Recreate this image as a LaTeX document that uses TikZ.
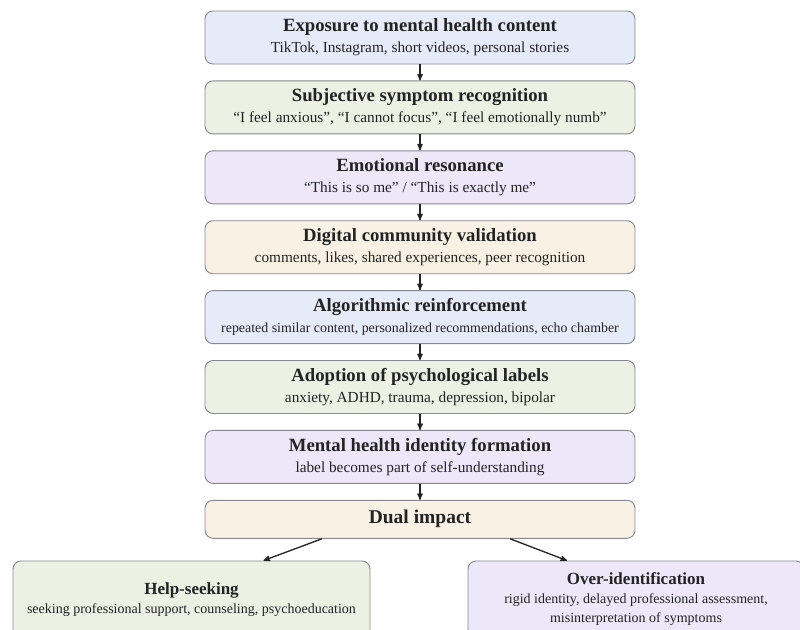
\documentclass[tikz,border=0pt]{standalone}
\usepackage{fontspec}
\setmainfont{Liberation Serif}
\usepackage[]{xcolor}
\usepackage{tikz}
\usetikzlibrary{arrows, positioning}
\definecolor{stageblue}{RGB}{230,235,249}
\definecolor{stagegreen}{RGB}{237,241,228}
\definecolor{stagepurple}{RGB}{236,232,249}
\definecolor{stagesand}{RGB}{249,242,228}
\definecolor{stageline}{RGB}{135,135,145}
\definecolor{inktext}{RGB}{35,35,35}
\newcommand{\stagetitle}[2][18.7]{{\bfseries\fontsize{#1}{20}\selectfont #2}}
\tikzset{
		stage/.style={draw=stageline, line width=0.9pt, rounded corners=8pt,
			minimum width=430pt, minimum height=53pt, inner sep=2pt,
			align=center, text=inktext, font=\fontsize{15.3}{21}\selectfont},
		outcome/.style={stage, font=\fontsize{14}{19}\selectfont},
		flow/.style={->, line width=1.3pt, draw=inktext}
	}

\begin{document}
\begin{tikzpicture}[>=stealth', x=1pt, y=1pt]
				\useasboundingbox (0,0) rectangle (800,-629);
				\clip (0,0) rectangle (800,-629);
				\fill[white] (0,0) rectangle (800,-629);

				\node[stage, fill=stageblue]                       (expo) at (420,-37.5) {\stagetitle{Exposure to mental health content}\\ TikTok, Instagram, short videos, personal stories};
				\node[stage, fill=stagegreen,  below=16pt of expo]  (symp)  {\stagetitle{Subjective symptom recognition}\\ “I feel anxious”, “I cannot focus”, “I feel emotionally numb”};
				\node[stage, fill=stagepurple, below=16pt of symp]  (reso)  {\stagetitle{Emotional resonance}\\ “This is so me” / “This is exactly me”};
				\node[stage, fill=stagesand,   below=16pt of reso]  (valid) {\stagetitle{Digital community validation}\\ comments, likes, shared experiences, peer recognition};
				\node[stage, fill=stageblue,   below=16pt of valid] (algo)  {\stagetitle{Algorithmic reinforcement}\\ {\fontsize{13.9}{21}\selectfont repeated similar content, personalized recommendations, echo chamber}};
				\node[stage, fill=stagegreen,  below=16pt of algo]  (label) {\stagetitle{Adoption of psychological labels}\\ anxiety, ADHD, trauma, depression, bipolar};
				\node[stage, fill=stagepurple, below=16pt of label] (ident) {\stagetitle{Mental health identity formation}\\ label becomes part of self-understanding};
				\node[stage, fill=stagesand, minimum height=38pt, below=16pt of ident] (dual) {\stagetitle[19.5]{Dual impact}};

				\node[outcome, fill=stagegreen, minimum width=357pt, minimum height=78pt]  (help) at (191.5,-600) {\stagetitle[17]{Help-seeking}\\ seeking professional support, counseling, psychoeducation};
				\node[outcome, fill=stagepurple, minimum width=336pt, minimum height=76pt] (over) at (636,-599) {\stagetitle[17]{Over-identification}\\ rigid identity, delayed professional assessment,\\ misinterpretation of symptoms};

				\path[flow] (expo)  edge (symp);
				\path[flow] (symp)  edge (reso);
				\path[flow] (reso)  edge (valid);
				\path[flow] (valid) edge (algo);
				\path[flow] (algo)  edge (label);
				\path[flow] (label) edge (ident);
				\path[flow] (ident) edge (dual);
				\draw[flow] ([xshift=-98pt]dual.south) -- ([xshift=72pt]help.north);
				\draw[flow] ([xshift=90pt]dual.south)  -- ([xshift=-69pt]over.north);
			\end{tikzpicture}
\end{document}
